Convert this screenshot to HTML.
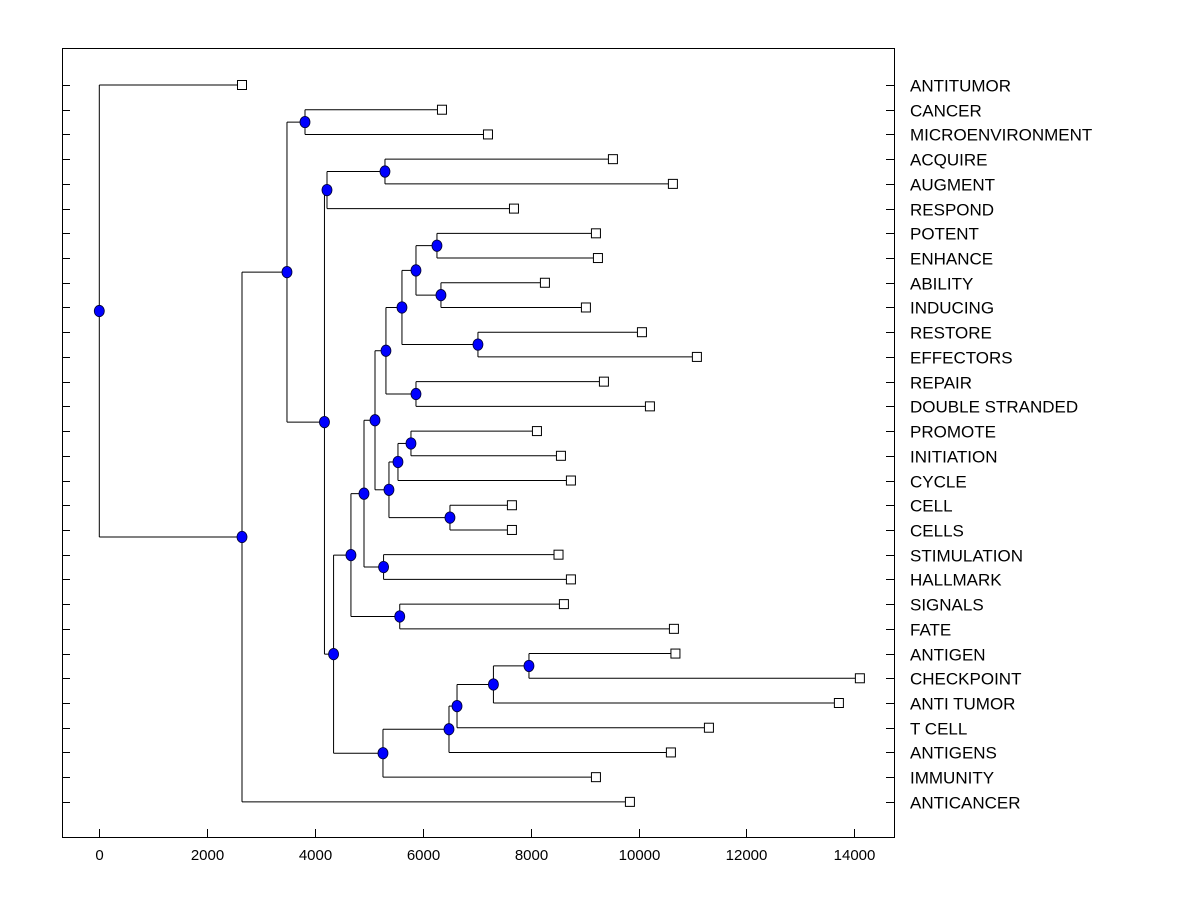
<!DOCTYPE html>
<html><head><meta charset="utf-8"><style>
html,body{margin:0;padding:0;background:#fff;}
svg{display:block;font-family:"Liberation Sans",Arial,sans-serif;}
</style></head><body>
<svg id="chart" width="1200" height="900" viewBox="0 0 1200 900" xmlns="http://www.w3.org/2000/svg">
<rect x="0" y="0" width="1200" height="900" fill="#fff"/>
<rect x="62.5" y="48.5" width="832" height="789" fill="none" stroke="#000" stroke-width="1"/>
<g id="g"></g>
</svg>
<script>
const leafNames = ["ANTITUMOR","CANCER","MICROENVIRONMENT","ACQUIRE","AUGMENT","RESPOND","POTENT","ENHANCE","ABILITY","INDUCING","RESTORE","EFFECTORS","REPAIR","DOUBLE STRANDED","PROMOTE","INITIATION","CYCLE","CELL","CELLS","STIMULATION","HALLMARK","SIGNALS","FATE","ANTIGEN","CHECKPOINT","ANTI TUMOR","T CELL","ANTIGENS","IMMUNITY","ANTICANCER"];
const leafHeights = [2646,6354,7207,9524,10636,7689,9209,9246,8263,9023,10062,11081,9357,10210,8115,8560,8745,7651,7651,8515,8745,8615,10655,10683,14103,13714,11304,10599,9209,9839];
// merges: [childA, childB, height]; node ids start at 30
const mergeA = [1,3,31,6,8,33,10,35,12,37,14,40,17,41,39,19,44,21,46,23,49,50,51,52,48,32,30,56,0];
const mergeB = [2,4,5,7,9,34,11,36,13,38,15,16,18,42,43,20,45,22,47,24,25,26,27,28,53,54,55,29,57];
const mergeH = [3814,5297,4222,6261,6335,5872,7021,5612,5872,5315,5779,5538,6502,5371,5112,5271,4908,5571,4666,7967,7308,6633,6484,5260,4344,4175,3480,2646,0];
const xTicks = [0,2000,4000,6000,8000,10000,12000,14000];

const X0 = 99.3, XS = 0.05393;
function xp(v){ return X0 + v*XS; }
function yp(i){ return 85 + i*24.72; }
const NS = "http://www.w3.org/2000/svg";
const g = document.getElementById('g');
function mk(tag, attrs){ const e=document.createElementNS(NS,tag); for(const k in attrs) e.setAttribute(k,attrs[k]); g.appendChild(e); return e; }

for (let i=0;i<leafNames.length;i++){
  const y = Math.round(yp(i))+0.5;
  const l = mk('line',{x1:62,x2:70,y1:y,y2:y,stroke:'#000'});
  
  
  const r = mk('line',{x1:886,x2:894,y1:y,y2:y,stroke:'#000'});
  
  
  const t = mk('text',{x:910,y:y+6,'font-size':17,fill:'#000'});
  t.textContent = leafNames[i];
  
  
}
xTicks.forEach(v=>{
  const x = Math.round(xp(v))+0.5;
  const l = mk('line',{x1:x,x2:x,y1:829,y2:837,stroke:'#000'});
  
  
  const t = mk('text',{x:x,y:860,'font-size':15,'text-anchor':'middle',fill:'#000'});
  t.textContent = String(v);
  
  
});

const nx = [], ny = [];
for (let i=0;i<leafNames.length;i++){ nx.push(xp(leafHeights[i])); ny.push(yp(i)); }
for (let m=0;m<mergeA.length;m++){
  const a=mergeA[m], b=mergeB[m];
  nx.push(xp(mergeH[m])); ny.push((ny[a]+ny[b])/2);
}
for (let m=0;m<mergeA.length;m++){
  const id = leafNames.length+m, x=nx[id];
  [mergeA[m],mergeB[m]].forEach(c=>{
    const p = mk('polyline',{points:`${x},${ny[c]} ${x},${ny[id]}`,fill:'none',stroke:'#000','stroke-width':1});
    
    
    const h = mk('line',{x1:x,y1:ny[c],x2:nx[c],y2:ny[c],stroke:'#000','stroke-width':1});
    
    
  });
}
for (let i=0;i<leafNames.length;i++){
  const s = mk('rect',{x:nx[i]-4.5,y:ny[i]-4.5,width:9,height:9,fill:'#fff',stroke:'#000','stroke-width':1});
  
  
}
for (let m=0;m<mergeA.length;m++){
  const id = leafNames.length+m;
  const c = mk('ellipse',{cx:nx[id],cy:ny[id],rx:5,ry:5.7,fill:'#0000ff',stroke:'#000033','stroke-width':0.8});
  
  
}
</script>
</body></html>
